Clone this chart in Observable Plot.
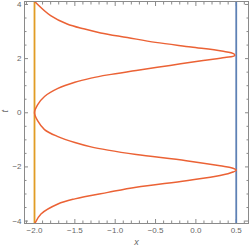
<!DOCTYPE html>
<html>
<head>
<meta charset="utf-8">
<script src="https://cdn.jsdelivr.net/npm/d3@7"></script>
<script src="https://cdn.jsdelivr.net/npm/@observablehq/plot@0.6"></script>
<style>
  html, body { margin: 0; padding: 0; background: #fff; }
  #chart svg { display: block; }
</style>
</head>
<body>
<div id="chart"></div>
<script>
// Curve readings (t, x)
const curveT = [-4.12, -3.74, -3.37, -3.18, -2.94, -2.75, -2.51, -2.32, -2.19, -2.12, -2.04, -1.96, -1.77, -1.54, -1.38, -1.26, -1.10, -0.88, -0.62, -0.30, 0,
  0.30, 0.60, 0.90, 1.13, 1.28, 1.40, 1.56, 1.75, 1.93, 2.04, 2.11, 2.18, 2.28, 2.43, 2.60, 2.78, 2.95, 3.10, 3.28, 3.59, 4.03, 4.13];
const curveX = [-2.00, -1.92, -1.71, -1.50, -1.09, -0.74, -0.12, 0.30, 0.46, 0.50, 0.45, 0.30, -0.12, -0.74, -1.09, -1.30, -1.50, -1.71, -1.876, -1.96, -2.00,
  -1.96, -1.876, -1.71, -1.50, -1.30, -1.09, -0.74, -0.32, 0.09, 0.36, 0.48, 0.47, 0.32, -0.06, -0.50, -0.85, -1.18, -1.39, -1.595, -1.80, -1.97, -2.00];
const vLineX = [-2, 0.5];
const vLineColor = ["#E19C24", "#5E81B5"];
const xMajor = [-2, -1.5, -1, -0.5, 0, 0.5];
const xMinor = d3.range(-21, 7).map(i => i / 10).filter(v => !xMajor.some(m => Math.abs(m - v) < 1e-9));
const yMajor = [-4, -2, 0, 2, 4];
const yMinor = [-3.5, -3, -2.5, -1.5, -1, -0.5, 0.5, 1, 1.5, 2.5, 3, 3.5];
const xTickLabels = ["\u22122.0", "\u22121.5", "\u22121.0", "\u22120.5", "0.0", "0.5"];
const yTickLabels = ["\u22124", "\u22122", "0", "2", "4"];
const xAxisLabel = ["x"];
const yAxisLabel = ["t"];

const curve = curveT.map((t, i) => ({t, x: curveX[i]}));
const vLines = vLineX.map((x, i) => ({x, c: vLineColor[i]}));

const tickColor = "#8a8a8a";
const labelColor = "#666";

const plot = Plot.plot({
  width: 249,
  height: 249,
  marginLeft: 24,
  marginRight: 1,
  marginTop: 1,
  marginBottom: 26,
  style: {fontFamily: "Liberation Sans, Arial, sans-serif", fontSize: "8px", background: "#fff"},
  x: {domain: [-2.124, 0.652]},
  y: {domain: [-4.09, 4.11]},
  marks: [
    // tick label axes
    Plot.axisX(xMajor, {anchor: "bottom", tickSize: 0, tickPadding: 4, tickFormat: d => xTickLabels[xMajor.indexOf(d)], fill: labelColor, label: null}),
    Plot.axisY(yMajor, {anchor: "left", tickSize: 0, tickPadding: 3, tickFormat: d => yTickLabels[yMajor.indexOf(d)], fill: labelColor, label: null}),
    // major ticks (inward)
    Plot.axisX(xMajor, {anchor: "bottom", tickSize: -4, fill: "none", stroke: tickColor, label: null}),
    Plot.axisX(xMajor, {anchor: "top", tickSize: -4, fill: "none", stroke: tickColor, label: null}),
    Plot.axisY(yMajor, {anchor: "left", tickSize: -4, fill: "none", stroke: tickColor, label: null}),
    Plot.axisY(yMajor, {anchor: "right", tickSize: -4, fill: "none", stroke: tickColor, label: null}),
    // minor ticks
    Plot.axisX(xMinor, {anchor: "bottom", tickSize: -2.5, fill: "none", stroke: tickColor, label: null}),
    Plot.axisX(xMinor, {anchor: "top", tickSize: -2.5, fill: "none", stroke: tickColor, label: null}),
    Plot.axisY(yMinor, {anchor: "left", tickSize: -2.5, fill: "none", stroke: tickColor, label: null}),
    Plot.axisY(yMinor, {anchor: "right", tickSize: -2.5, fill: "none", stroke: tickColor, label: null}),
    // axis labels
    Plot.text(xAxisLabel, {text: d => d, frameAnchor: "bottom", dy: 21, fill: labelColor, fontStyle: "italic", fontSize: 9}),
    Plot.text(yAxisLabel, {text: d => d, frameAnchor: "left", dx: -19, rotate: -90, fill: labelColor, fontStyle: "italic", fontSize: 9}),
    Plot.ruleX(vLines, {x: "x", stroke: "c", strokeWidth: 1.8}),
    Plot.line(curve, {x: "x", y: "t", curve: "catmull-rom", stroke: "#EB6235", strokeWidth: 1.5, clip: true}),
    Plot.frame({stroke: tickColor})
  ]
});
document.getElementById("chart").appendChild(plot);
</script>
</body>
</html>
